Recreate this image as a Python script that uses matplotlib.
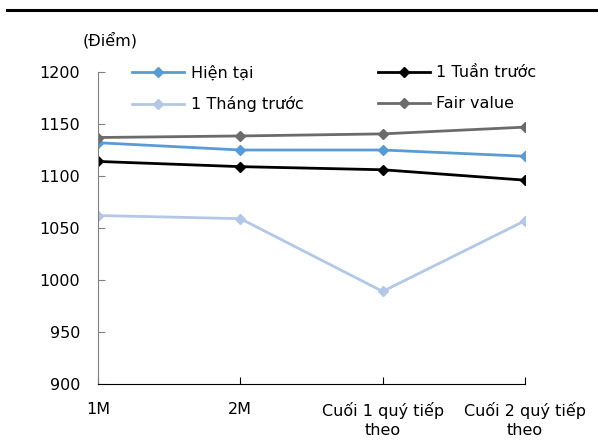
import matplotlib
matplotlib.use("Agg")
import matplotlib.pyplot as plt
from matplotlib.lines import Line2D

categories = ["1M", "2M", "Cuối 1 quý tiếp\ntheo", "Cuối 2 quý tiếp\ntheo"]
hien_tai = [1132, 1125, 1125, 1119]
tuan_truoc = [1114, 1109, 1106, 1096]
thang_truoc = [1062, 1059, 989, 1057]
fair_value = [1137, 1138.5, 1140.5, 1147]
y_ticks = [900, 950, 1000, 1050, 1100, 1150, 1200]

plt.rcParams['font.family'] = ['DejaVu Sans']
plt.rcParams['font.size'] = 11.5

fig = plt.figure(figsize=(5.98, 4.46), dpi=100)
ax = fig.add_axes([98/598, 1-384/446, (525-98)/598, (384-72)/446])

x = list(range(len(categories)))
kw = dict(marker='D', markersize=5.5, linewidth=2)
l1, = ax.plot(x, hien_tai, color='#5B9BD5', label='Hiện tại', **kw)
l2, = ax.plot(x, tuan_truoc, color='#000000', label='1 Tuần trước', **kw)
l3, = ax.plot(x, thang_truoc, color='#B4C7E7', label='1 Tháng trước', **kw)
l4, = ax.plot(x, fair_value, color='#6B6B6B', label='Fair value', **kw)

ax.set_xlim(0, 3)
ax.set_ylim(900, 1200)
ax.set_yticks(y_ticks)
ax.set_xticks(x)
ax.set_xticklabels(categories, linespacing=1.3)
for s in ['top', 'right']:
    ax.spines[s].set_visible(False)
ax.spines['left'].set_color('#808080')
ax.spines['bottom'].set_color('#000000')
ax.tick_params(axis='y', direction='in', length=5, pad=13, colors='#000000')
ax.tick_params(axis='y', color='#808080')
ax.tick_params(axis='x', direction='in', length=5, pad=13)

ax.legend([l1, l3, l2, l4], ['Hiện tại', '1 Tháng trước', '1 Tuần trước', 'Fair value'],
          ncol=2, frameon=False, loc='upper left', bbox_to_anchor=(28/427, 1.042),
          handlelength=3.25, columnspacing=4.65, labelspacing=1.0, borderaxespad=0,
          handletextpad=0.4)

fig.text(83/598, 1-40/446, '(Điểm)', ha='left', va='center', fontsize=11.5)
fig.add_artist(Line2D([7/598, 1], [1-10/446, 1-10/446], color='black', linewidth=2.2))

fig.savefig('out.png', dpi=100)
